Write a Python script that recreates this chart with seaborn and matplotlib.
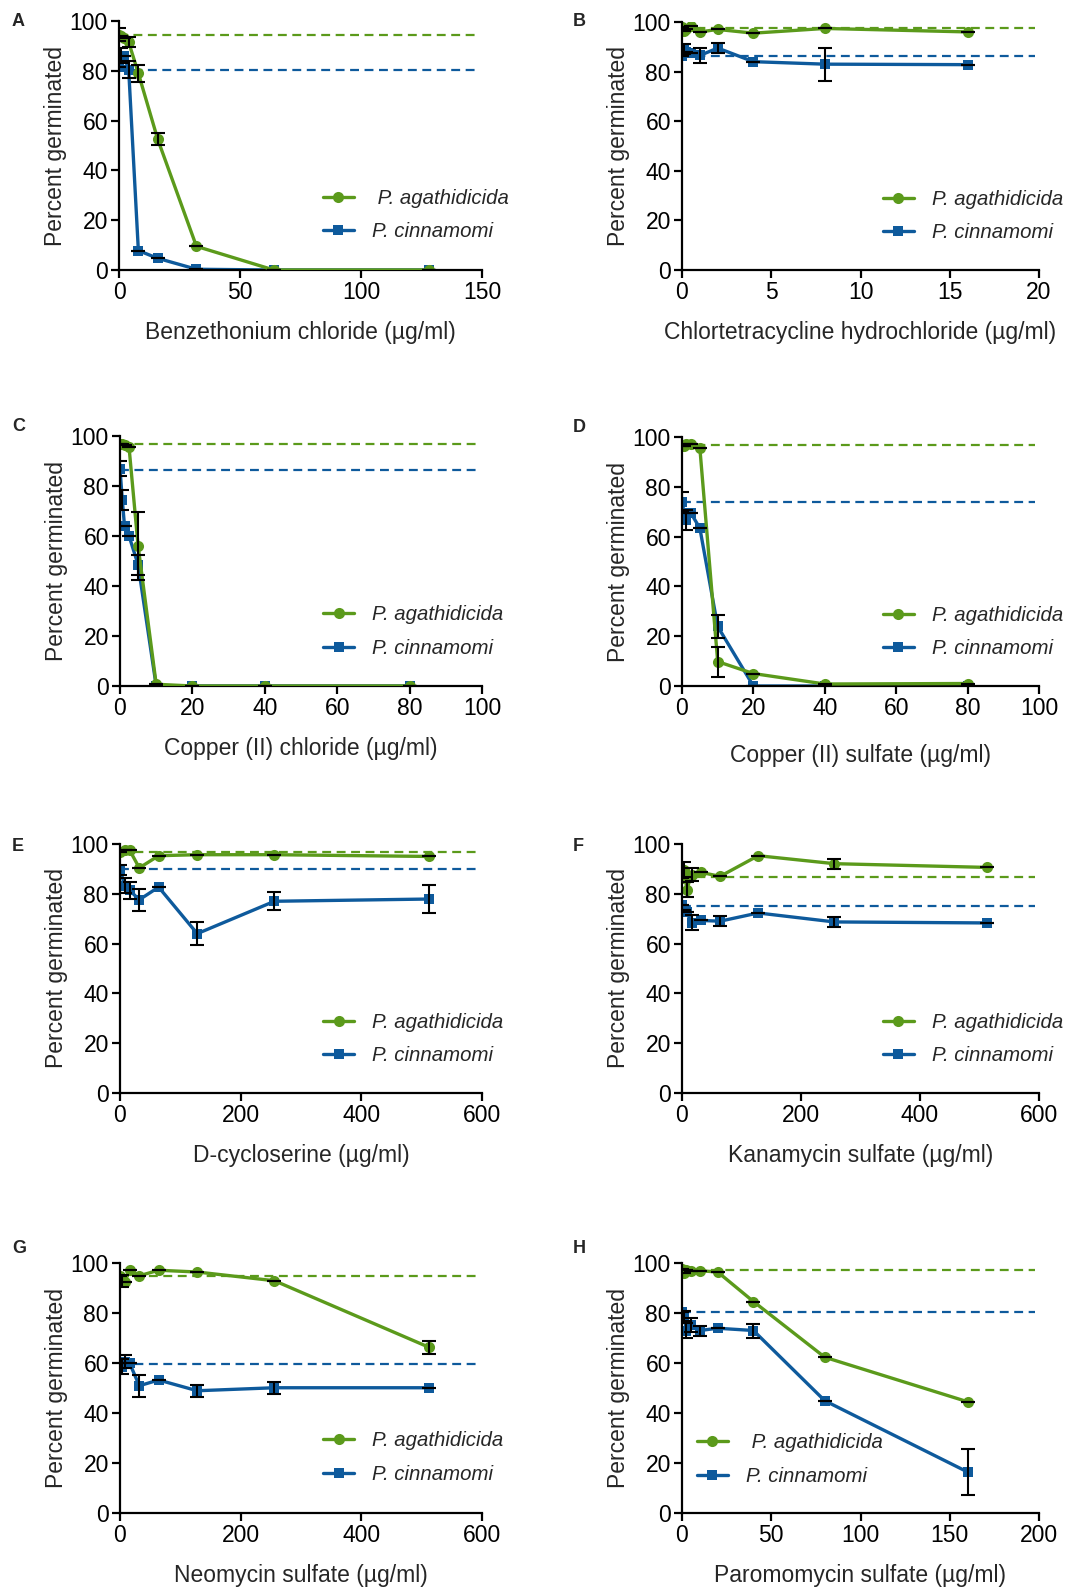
import matplotlib
matplotlib.use("Agg")
import matplotlib.pyplot as plt
import seaborn as sns

# colours
GREEN = "#5b9a1b"
BLUE = "#0e5a9c"

# A - Benzethonium chloride
a_x = [0, 1, 2, 4, 8, 16, 32, 64, 128]
a_green = [94.5, 94, 93, 91.5, 79, 52.5, 9.5, 0, 0]
a_green_err = [2.5, 0, 0, 2, 3.5, 2.5, 0, 0, 0]
a_blue = [81.5, 86, 86, 80.5, 7.8, 4.7, 0.3, 0, 0]
a_blue_err = [0, 3, 0, 3.5, 0, 0, 0, 0, 0]
a_ctrl = [94.3, 80.5]

# B - Chlortetracycline hydrochloride
b_x = [0, 0.125, 0.25, 0.5, 1, 2, 4, 8, 16]
b_green = [98, 96.5, 97, 98.5, 96, 97, 95.5, 97.4, 96]
b_green_err = [0, 0, 0, 0, 0, 0, 0, 0, 0]
b_blue = [86.3, 89, 88, 87.5, 86.5, 89.5, 84, 83, 82.8]
b_blue_err = [0, 2, 0, 0, 3, 2, 0, 6.7, 0]
b_ctrl = [97.7, 86.3]

# C - Copper (II) chloride
c_x = [0, 0.625, 1.25, 2.5, 5, 10, 20, 40, 80]
c_green = [97, 97, 96.5, 95.5, 56, 0.7, 0, 0, 0]
c_green_err = [0, 0, 0, 0, 13.5, 0, 0, 0, 0]
c_blue = [87, 74.5, 64, 60, 48.5, 0, 0, 0, 0]
c_blue_err = [3, 4, 0, 0, 4, 0, 0, 0, 0]
c_ctrl = [96.8, 86.4]

# D - Copper (II) sulfate
d_x = [0, 0.625, 1.25, 2.5, 5, 10, 20, 40, 80]
d_green = [96.2, 96.5, 97, 97.2, 95.6, 9.8, 5, 0.8, 1]
d_green_err = [0, 0, 0, 0, 0, 6, 0, 0, 0]
d_blue = [74, 69.4, 66.8, 69.4, 63.4, 23.9, 0, 0, 0]
d_blue_err = [4, 0, 4, 0, 0, 4.5, 0, 0, 0]
d_ctrl = [96.9, 73.9]

# E - D-cycloserine
e_x = [0, 8, 16, 32, 64, 128, 256, 512]
e_green = [96.7, 97.5, 97.5, 90.4, 95.3, 95.7, 95.7, 95]
e_green_err = [0, 0, 0, 0, 0, 0, 0, 0]
e_blue = [89.7, 83.3, 81.4, 77.6, 82.7, 64, 77, 77.9]
e_blue_err = [2, 3, 3.5, 4.5, 0, 4.5, 3.7, 5.5]
e_ctrl = [96.8, 90]

# F - Kanamycin sulfate
f_x = [0, 4, 8, 16, 32, 64, 128, 256, 512]
f_green = [86.3, 89.7, 81.7, 87.7, 88.6, 87, 95.3, 92.1, 90.6]
f_green_err = [0, 3, 3, 2.5, 0, 0, 0, 2, 0]
f_blue = [75.6, 73.6, 72.6, 68.3, 69.3, 69, 72.3, 68.7, 68.3]
f_blue_err = [0, 0, 0, 3, 0, 2, 0, 2, 0]
f_ctrl = [86.6, 75.1]

# G - Neomycin sulfate
g_x = [0, 4, 8, 16, 32, 64, 128, 256, 512]
g_green = [94.7, 92.9, 92.6, 97.3, 94.9, 97.1, 96.4, 92.9, 66.3]
g_green_err = [0, 2.3, 0, 0, 0, 0, 0, 0, 2.5]
g_blue = [59.9, 58.6, 60.6, 59.9, 50.9, 53.2, 48.9, 50.1, 50.1]
g_blue_err = [0, 3, 2.5, 0, 4.3, 0, 2.5, 2.3, 0]
g_ctrl = [94.7, 59.5]

# H - Paromomycin sulfate
h_x = [0, 1.25, 2.5, 5, 10, 20, 40, 80, 160]
h_green = [97.6, 96, 97.1, 96.7, 96.9, 96.4, 84.6, 62.3, 44.5]
h_green_err = [0, 0, 0, 0, 0, 0, 0, 0, 0]
h_blue = [80.6, 78.9, 73, 75.3, 73, 73.9, 73, 44.9, 16.4]
h_blue_err = [0, 2, 3, 2.8, 2, 0, 2.8, 0, 9.3]
h_ctrl = [97.3, 80.3]

sns.set_style("ticks")
plt.rcParams["font.family"] = ["Liberation Sans", "DejaVu Sans"]

fig = plt.figure(figsize=(10.87, 15.87), dpi=100)

W, H = 1087, 1587


def add_axes(left, right, top, bottom):
    return fig.add_axes([left / W, 1 - bottom / H, (right - left) / W, (bottom - top) / H])


panels = [
    ("A", a_x, a_green, a_green_err, a_blue, a_blue_err, a_ctrl, 150, [0, 50, 100, 150],
     "Benzethonium chloride (µg/ml)", (119, 482, 21, 270), (0.562, 0.221), " P. agathidicida"),
    ("B", b_x, b_green, b_green_err, b_blue, b_blue_err, b_ctrl, 20, [0, 5, 10, 15, 20],
     "Chlortetracycline hydrochloride (µg/ml)", (682, 1039, 22, 270), (0.563, 0.218), "P. agathidicida"),
    ("C", c_x, c_green, c_green_err, c_blue, c_blue_err, c_ctrl, 100, [0, 20, 40, 60, 80, 100],
     "Copper (II) chloride (µg/ml)", (120, 482, 436, 686), (0.562, 0.218), "P. agathidicida"),
    ("D", d_x, d_green, d_green_err, d_blue, d_blue_err, d_ctrl, 100, [0, 20, 40, 60, 80, 100],
     "Copper (II) sulfate (µg/ml)", (682, 1039, 437, 686), (0.563, 0.216), "P. agathidicida"),
    ("E", e_x, e_green, e_green_err, e_blue, e_blue_err, e_ctrl, 600, [0, 200, 400, 600],
     "D-cycloserine (µg/ml)", (120, 482, 844, 1093), (0.562, 0.217), "P. agathidicida"),
    ("F", f_x, f_green, f_green_err, f_blue, f_blue_err, f_ctrl, 600, [0, 200, 400, 600],
     "Kanamycin sulfate (µg/ml)", (682, 1039, 844, 1093), (0.563, 0.217), "P. agathidicida"),
    ("G", g_x, g_green, g_green_err, g_blue, g_blue_err, g_ctrl, 600, [0, 200, 400, 600],
     "Neomycin sulfate (µg/ml)", (120, 482, 1263, 1513), (0.562, 0.222), "P. agathidicida"),
    ("H", h_x, h_green, h_green_err, h_blue, h_blue_err, h_ctrl, 200, [0, 50, 100, 150, 200],
     "Paromomycin sulfate (µg/ml)", (682, 1039, 1263, 1513), (0.042, 0.214), " P. agathidicida"),
]

letter_pos = {"A": (12, 13), "B": (573, 13), "C": (12, 418), "D": (573, 419),
              "E": (12, 838), "F": (573, 838), "G": (12, 1240), "H": (573, 1240)}

for (letter, x, gy, gerr, by, berr, ctrl, xmax, xticks, xlabel, box, legpos, glabel) in panels:
    ax = add_axes(*box)
    # control (untreated) dashed lines
    ax.plot([0, xmax * 0.99], [ctrl[0], ctrl[0]], ls=(0, (4, 2.5)), color=GREEN, lw=1.6, zorder=1)
    ax.plot([0, xmax * 0.99], [ctrl[1], ctrl[1]], ls=(0, (4, 2.5)), color=BLUE, lw=1.6, zorder=1)

    sns.lineplot(x=x, y=gy, ax=ax, color=GREEN, marker="o", markersize=8, lw=2.4,
                 markeredgewidth=0, label=glabel, zorder=3)
    sns.lineplot(x=x, y=by, ax=ax, color=BLUE, marker="s", markersize=7.5, lw=2.4,
                 markeredgewidth=0, label="P. cinnamomi", zorder=2)
    ax.errorbar(x, gy, yerr=gerr, fmt="none", ecolor="black", elinewidth=1.5,
                capsize=5, capthick=1.5, zorder=4)
    ax.errorbar(x, by, yerr=berr, fmt="none", ecolor="black", elinewidth=1.5,
                capsize=5, capthick=1.5, zorder=4)

    ax.set_xlim(0, xmax)
    ax.set_ylim(0, 100)
    ax.set_xticks(xticks)
    ax.set_yticks([0, 20, 40, 60, 80, 100])
    for s in ["top", "right"]:
        ax.spines[s].set_visible(False)
    for s in ["left", "bottom"]:
        ax.spines[s].set_linewidth(1.6)
        ax.spines[s].set_color("black")
    ax.spines["left"].set_zorder(5)
    ax.tick_params(axis="both", direction="out", length=5.5, width=1.6, labelsize=16.5,
                   colors="black", pad=2.5)
    ax.set_xlabel(xlabel, fontsize=16.5, labelpad=12 if letter != "D" else 17)
    ax.set_ylabel("Percent germinated", fontsize=16.5, labelpad=2)
    for lab in ax.get_yticklabels() + ax.get_xticklabels():
        lab.set_clip_on(False)

    leg = ax.legend(loc="center left", bbox_to_anchor=legpos, frameon=False,
                    prop={"style": "italic", "size": 14.7}, handlelength=1.5,
                    handletextpad=0.9, labelspacing=0.7, borderpad=0, borderaxespad=0)
    leg.set_zorder(6)

    lx, ly = letter_pos[letter]
    fig.text(lx / W, 1 - ly / H, letter, fontsize=13, fontweight="bold", ha="left", va="top")

fig.savefig("out.png", dpi=100)
